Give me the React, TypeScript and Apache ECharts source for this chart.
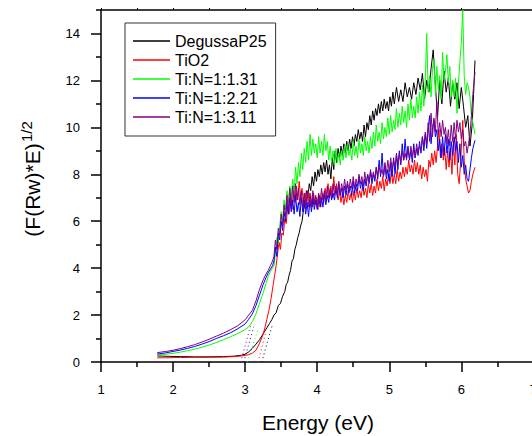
import React, { useEffect, useRef } from "react";
import * as echarts from "echarts";

const FONT = "'Liberation Sans', Arial, sans-serif";

const seriesNames = ["DegussaP25", "TiO2", "Ti:N=1:1.31", "Ti:N=1:2.21", "Ti:N=1:3.11"];
const seriesColors = ["#000000", "#ff0000", "#00ff00", "#0000ff", "#800080"];

const xTitle = "Energy (eV)";
const yTitleMain = "(F(Rw)*E)";
const yTitleSup = "1/2";
const yMajorTicks = [0, 2, 4, 6, 8, 10, 12, 14];
const yMinorTicks = [1, 3, 5, 7, 9, 11, 13, 15];

const degussa: [number, number][] = [
  [1.78,0.26],[1.85,0.25],[1.95,0.24],[2.1,0.23],[2.3,0.22],[2.5,0.22],[2.7,0.23],[2.85,0.25],[2.95,0.29],[3.0,0.33],
  [3.05,0.43],[3.1,0.58],[3.15,0.76],[3.2,0.95],[3.25,1.2],[3.3,1.45],[3.34,1.65],[3.37,1.8],[3.4,2.0],[3.43,2.1],
  [3.46,2.4],[3.49,2.5],[3.52,2.8],[3.55,3.0],[3.57,3.3],[3.59,3.4],[3.61,3.7],[3.63,3.9],[3.65,4.3],[3.67,4.4],
  [3.69,4.8],[3.71,5.0],[3.73,5.3],[3.75,5.5],[3.77,5.8],[3.79,6.0],[3.81,6.5],[3.83,6.7],[3.85,7.3],[3.87,7.0],
  [3.89,7.6],[3.91,7.3],[3.93,7.9],[3.95,7.5],[3.97,8.1],[3.99,7.7],[4.01,8.2],[4.03,7.9],[4.05,8.4],[4.07,8.0],
  [4.09,8.5],[4.11,8.1],[4.13,8.6],[4.15,8.0],[4.17,8.4],[4.19,7.8],[4.21,8.7],[4.23,8.2],[4.25,9.0],[4.27,8.5],
  [4.29,9.1],[4.31,8.7],[4.33,9.2],[4.35,8.8],[4.37,9.3],[4.39,8.9],[4.41,9.4],[4.43,9.0],[4.45,9.5],[4.47,9.1],
  [4.49,9.6],[4.51,9.2],[4.53,9.7],[4.55,9.4],[4.57,9.9],[4.59,9.5],[4.61,9.8],[4.63,9.4],[4.65,10.1],[4.67,9.6],
  [4.69,10.2],[4.71,9.9],[4.73,10.5],[4.75,10.1],[4.77,10.7],[4.79,10.3],[4.81,10.8],[4.83,10.5],[4.85,11.0],[4.87,10.6],
  [4.89,11.1],[4.91,10.7],[4.93,11.2],[4.95,10.8],[4.97,11.1],[4.99,10.7],[5.01,11.3],[5.03,10.9],[5.05,11.5],[5.07,11.0],
  [5.10,11.7],[5.13,11.1],[5.16,11.6],[5.19,11.1],[5.22,11.9],[5.25,11.3],[5.28,11.7],[5.31,11.2],[5.34,11.9],[5.37,11.4],
  [5.40,12.1],[5.43,11.6],[5.46,12.3],[5.49,11.2],[5.52,12.0],[5.55,11.5],[5.58,12.5],[5.61,13.3],[5.64,11.8],[5.67,10.4],
  [5.70,12.0],[5.73,11.0],[5.76,12.4],[5.79,11.5],[5.82,12.1],[5.85,10.9],[5.88,11.9],[5.91,11.2],[5.94,11.9],[5.97,10.8],
  [6.00,11.7],[6.03,10.9],[6.06,10.0],[6.09,10.5],[6.12,9.2],[6.15,10.1],[6.17,11.4],[6.19,12.85]
];

const tio2: [number, number][] = [
  [1.78,0.18],[1.9,0.18],[2.1,0.19],[2.3,0.2],[2.5,0.2],[2.7,0.21],[2.85,0.23],[2.95,0.26],[3.0,0.28],[3.05,0.31],
  [3.1,0.38],[3.15,0.5],[3.2,0.8],[3.24,1.1],[3.27,1.4],[3.3,1.8],[3.33,2.2],[3.36,2.7],[3.39,3.3],[3.41,3.7],
  [3.43,4.1],[3.45,4.6],[3.47,5.1],[3.49,4.8],[3.51,5.5],[3.53,5.4],[3.55,6.1],[3.57,5.9],[3.59,6.6],[3.61,6.3],
  [3.63,7.0],[3.65,6.5],[3.67,7.3],[3.69,6.8],[3.71,7.5],[3.73,6.9],[3.75,7.7],[3.77,7.0],[3.79,7.4],[3.81,6.8],
  [3.83,7.2],[3.85,6.7],[3.87,7.3],[3.89,6.8],[3.91,7.1],[3.93,6.6],[3.95,7.2],[3.97,6.7],[3.99,7.0],[4.01,6.5],
  [4.03,7.1],[4.05,6.6],[4.07,7.2],[4.09,6.8],[4.11,7.4],[4.13,6.9],[4.15,7.6],[4.17,7.0],[4.19,7.5],[4.21,7.0],
  [4.23,7.9],[4.25,7.2],[4.27,7.6],[4.29,6.9],[4.31,7.3],[4.33,6.8],[4.35,7.2],[4.37,6.7],[4.39,7.1],[4.41,6.8],
  [4.43,7.3],[4.45,6.9],[4.47,7.2],[4.49,6.8],[4.51,7.3],[4.53,6.9],[4.55,7.4],[4.57,7.0],[4.59,7.3],[4.61,7.0],
  [4.63,7.5],[4.65,7.1],[4.67,7.4],[4.69,7.0],[4.71,7.6],[4.73,7.2],[4.75,7.6],[4.77,7.1],[4.79,7.5],[4.81,7.2],
  [4.83,7.8],[4.85,7.3],[4.87,7.7],[4.89,7.4],[4.91,7.9],[4.93,7.3],[4.95,7.8],[4.97,7.5],[4.99,8.0],[5.01,7.6],
  [5.03,8.1],[5.05,7.6],[5.07,8.0],[5.09,7.6],[5.11,8.2],[5.13,7.7],[5.15,8.1],[5.17,7.8],[5.19,8.3],[5.21,7.9],
  [5.23,8.3],[5.25,8.0],[5.27,8.6],[5.29,8.1],[5.31,8.4],[5.33,8.0],[5.35,8.6],[5.37,8.1],[5.39,8.5],[5.41,8.0],
  [5.43,8.4],[5.45,7.8],[5.47,8.3],[5.49,7.9],[5.51,8.2],[5.53,7.7],[5.55,8.6],[5.57,8.3],[5.59,8.9],[5.61,8.4],
  [5.63,9.0],[5.65,8.5],[5.67,9.2],[5.69,9.9],[5.71,8.7],[5.73,9.3],[5.75,8.6],[5.77,9.1],[5.79,8.2],[5.81,9.0],
  [5.83,8.3],[5.85,9.1],[5.87,8.0],[5.89,9.4],[5.91,8.4],[5.93,9.7],[5.95,8.0],[5.97,7.6],[5.99,8.5],[6.02,10.3],
  [6.04,8.6],[6.06,7.8],[6.08,7.5],[6.10,7.2],[6.12,7.3],[6.14,7.7],[6.16,8.0],[6.19,8.3]
];

const tin131: [number, number][] = [
  [1.78,0.3],[1.9,0.33],[2.0,0.37],[2.1,0.42],[2.2,0.48],[2.3,0.55],[2.4,0.63],[2.5,0.72],[2.6,0.83],[2.7,0.95],
  [2.8,1.08],[2.9,1.22],[3.0,1.38],[3.05,1.5],[3.1,1.72],[3.15,2.05],[3.2,2.5],[3.25,2.95],[3.29,3.35],[3.32,3.65],
  [3.35,3.85],[3.38,4.0],[3.40,4.1],[3.42,4.6],[3.44,5.3],[3.46,5.0],[3.48,5.8],[3.50,6.4],[3.52,6.0],[3.54,6.9],
  [3.56,6.5],[3.58,7.3],[3.60,6.8],[3.62,7.5],[3.64,7.0],[3.66,7.8],[3.68,7.2],[3.70,8.3],[3.72,7.6],[3.74,8.5],
  [3.76,7.9],[3.78,8.9],[3.80,8.2],[3.82,9.1],[3.84,8.5],[3.86,9.4],[3.88,8.6],[3.90,9.7],[3.92,8.8],[3.94,9.5],
  [3.96,8.9],[3.98,9.3],[4.00,8.7],[4.02,9.6],[4.04,8.9],[4.06,9.4],[4.08,8.8],[4.10,9.7],[4.12,9.0],[4.14,9.4],
  [4.16,8.6],[4.18,9.2],[4.20,8.5],[4.22,9.0],[4.24,8.4],[4.26,9.1],[4.28,8.5],[4.30,8.9],[4.32,8.4],[4.34,9.0],
  [4.36,8.6],[4.38,9.2],[4.40,8.7],[4.42,9.3],[4.44,8.8],[4.46,9.1],[4.48,8.6],[4.50,9.4],[4.52,8.8],[4.54,9.2],
  [4.56,8.7],[4.58,9.5],[4.60,8.9],[4.62,9.3],[4.64,8.8],[4.66,9.6],[4.68,9.0],[4.70,9.4],[4.72,8.9],[4.74,9.6],
  [4.76,9.1],[4.78,9.8],[4.80,9.2],[4.82,10.1],[4.84,9.4],[4.86,9.8],[4.88,9.3],[4.90,10.2],[4.92,9.5],[4.94,10.0],
  [4.96,9.6],[4.98,10.4],[5.00,9.7],[5.02,10.5],[5.04,9.8],[5.06,10.3],[5.08,9.9],[5.10,10.8],[5.12,10.0],[5.14,10.6],
  [5.16,10.1],[5.18,10.9],[5.20,10.2],[5.22,10.7],[5.24,10.0],[5.26,11.0],[5.28,10.3],[5.30,11.2],[5.32,10.4],[5.34,10.9],
  [5.36,10.4],[5.38,11.3],[5.40,10.6],[5.42,11.5],[5.44,10.7],[5.46,11.8],[5.48,10.9],[5.50,12.0],[5.52,14.0],[5.54,11.5],
  [5.56,12.2],[5.58,11.3],[5.60,12.5],[5.62,12.9],[5.64,11.4],[5.66,12.6],[5.68,11.6],[5.70,12.2],[5.72,11.2],[5.74,13.2],
  [5.76,12.0],[5.78,12.4],[5.80,13.1],[5.82,11.9],[5.84,12.6],[5.86,11.3],[5.88,12.0],[5.90,11.3],[5.92,12.1],[5.94,10.6],
  [5.96,11.9],[5.98,12.8],[6.00,13.6],[6.02,15.0],[6.04,12.2],[6.06,11.4],[6.08,11.9],[6.10,11.7],[6.12,11.3],[6.14,10.5],
  [6.16,10.2],[6.19,9.7]
];

const tin221: [number, number][] = [
  [1.78,0.34],[1.9,0.39],[2.0,0.45],[2.1,0.51],[2.2,0.58],[2.3,0.66],[2.4,0.76],[2.5,0.87],[2.6,1.0],[2.7,1.12],
  [2.8,1.25],[2.9,1.42],[3.0,1.62],[3.05,1.82],[3.1,2.05],[3.15,2.4],[3.2,2.85],[3.25,3.3],[3.29,3.6],[3.32,3.8],
  [3.35,3.95],[3.38,4.1],[3.40,4.3],[3.42,4.9],[3.44,4.5],[3.46,5.5],[3.48,5.2],[3.50,6.0],[3.52,5.6],[3.54,6.4],
  [3.56,6.0],[3.58,6.8],[3.60,6.3],[3.62,7.0],[3.64,6.4],[3.66,6.9],[3.68,6.3],[3.70,7.1],[3.72,6.4],[3.74,6.8],
  [3.76,6.2],[3.78,7.0],[3.80,6.4],[3.82,6.9],[3.84,6.3],[3.86,6.8],[3.88,6.2],[3.90,6.9],[3.92,6.4],[3.94,7.0],
  [3.96,6.5],[3.98,6.9],[4.00,6.5],[4.02,7.1],[4.04,6.6],[4.06,7.0],[4.08,6.6],[4.10,7.2],[4.12,6.7],[4.14,7.1],
  [4.16,6.8],[4.18,7.3],[4.20,6.9],[4.22,7.2],[4.24,6.9],[4.26,7.4],[4.28,7.0],[4.30,7.6],[4.32,7.1],[4.34,7.4],
  [4.36,7.0],[4.38,7.5],[4.40,7.1],[4.42,7.6],[4.44,7.2],[4.46,7.5],[4.48,7.1],[4.50,7.7],[4.52,7.2],[4.54,7.6],
  [4.56,7.3],[4.58,7.9],[4.60,7.4],[4.62,7.7],[4.64,7.3],[4.66,7.8],[4.68,7.5],[4.70,8.0],[4.72,7.6],[4.74,8.1],
  [4.76,7.6],[4.78,8.0],[4.80,7.7],[4.82,8.3],[4.84,7.8],[4.86,8.6],[4.88,7.9],[4.90,8.9],[4.92,7.9],[4.94,8.4],
  [4.96,7.8],[4.98,8.2],[5.00,7.7],[5.02,8.5],[5.04,7.9],[5.06,8.7],[5.08,8.0],[5.10,8.8],[5.12,8.2],[5.14,9.0],
  [5.16,8.4],[5.18,9.3],[5.20,8.6],[5.22,9.5],[5.24,8.7],[5.26,9.2],[5.28,8.6],[5.30,9.0],[5.32,8.5],[5.34,9.3],
  [5.36,8.7],[5.38,9.1],[5.40,8.8],[5.42,9.4],[5.44,8.9],[5.46,9.6],[5.48,9.0],[5.50,9.7],[5.52,9.1],[5.54,9.9],
  [5.56,10.5],[5.58,9.3],[5.60,10.0],[5.62,10.3],[5.64,9.6],[5.66,9.9],[5.68,9.0],[5.70,9.5],[5.72,8.7],[5.74,9.6],
  [5.76,8.8],[5.78,9.7],[5.80,8.9],[5.82,9.5],[5.84,8.6],[5.86,9.4],[5.88,8.8],[5.90,9.6],[5.92,9.0],[5.94,9.4],
  [5.96,8.5],[5.98,9.3],[6.00,8.3],[6.02,8.8],[6.04,8.0],[6.06,8.4],[6.08,7.8],[6.10,7.7],[6.12,8.2],[6.14,8.7],
  [6.16,9.1],[6.19,9.45]
];

const tin311: [number, number][] = [
  [1.78,0.4],[1.9,0.45],[2.0,0.5],[2.1,0.57],[2.2,0.65],[2.3,0.74],[2.4,0.85],[2.5,0.97],[2.6,1.1],[2.7,1.23],
  [2.8,1.38],[2.9,1.55],[3.0,1.8],[3.05,2.0],[3.1,2.2],[3.15,2.6],[3.2,3.1],[3.25,3.5],[3.29,3.75],[3.32,3.9],
  [3.35,4.1],[3.38,4.3],[3.40,4.5],[3.42,5.2],[3.44,4.8],[3.46,5.7],[3.48,5.4],[3.50,6.3],[3.52,5.8],[3.54,6.7],
  [3.56,6.2],[3.58,7.1],[3.60,6.5],[3.62,7.4],[3.64,6.7],[3.66,7.5],[3.68,6.8],[3.70,7.6],[3.72,6.9],[3.74,7.4],
  [3.76,6.7],[3.78,7.3],[3.80,6.6],[3.82,7.2],[3.84,6.5],[3.86,7.3],[3.88,6.6],[3.90,7.2],[3.92,6.6],[3.94,7.3],
  [3.96,6.7],[3.98,7.1],[4.00,6.6],[4.02,7.2],[4.04,6.8],[4.06,7.4],[4.08,6.9],[4.10,7.3],[4.12,6.9],[4.14,7.5],
  [4.16,7.0],[4.18,7.4],[4.20,7.0],[4.22,7.6],[4.24,7.1],[4.26,7.5],[4.28,7.1],[4.30,7.7],[4.32,7.2],[4.34,7.6],
  [4.36,7.2],[4.38,7.8],[4.40,7.3],[4.42,7.7],[4.44,7.3],[4.46,7.8],[4.48,7.4],[4.50,7.9],[4.52,7.4],[4.54,7.8],
  [4.56,7.5],[4.58,8.0],[4.60,7.6],[4.62,7.9],[4.64,7.5],[4.66,8.1],[4.68,7.6],[4.70,8.0],[4.72,7.7],[4.74,8.2],
  [4.76,7.8],[4.78,8.1],[4.80,7.8],[4.82,8.3],[4.84,7.9],[4.86,8.4],[4.88,8.0],[4.90,8.2],[4.92,7.9],[4.94,8.5],
  [4.96,8.0],[4.98,8.6],[5.00,8.1],[5.02,8.7],[5.04,8.2],[5.06,8.6],[5.08,8.3],[5.10,8.9],[5.12,8.4],[5.14,8.9],
  [5.16,8.5],[5.18,9.0],[5.20,8.6],[5.22,8.9],[5.24,8.6],[5.26,9.1],[5.28,8.7],[5.30,9.2],[5.32,8.8],[5.34,9.1],
  [5.36,8.7],[5.38,9.3],[5.40,8.9],[5.42,9.2],[5.44,9.0],[5.46,9.6],[5.48,9.2],[5.50,9.8],[5.52,9.3],[5.54,10.2],
  [5.56,9.4],[5.58,10.6],[5.60,9.6],[5.62,10.4],[5.64,9.8],[5.66,11.1],[5.68,9.7],[5.70,10.2],[5.72,9.6],[5.74,10.3],
  [5.76,9.7],[5.78,10.0],[5.80,9.3],[5.82,9.9],[5.84,9.2],[5.86,10.1],[5.88,9.4],[5.90,10.2],[5.92,9.5],[5.94,10.3],
  [5.96,9.8],[5.98,10.2],[6.00,9.5],[6.02,9.9],[6.04,9.2],[6.06,9.4],[6.08,8.9],[6.10,9.3],[6.12,9.7],[6.14,10.5],
  [6.16,11.4],[6.19,12.35]
];

// dotted tangent extrapolations to the energy axis
const tangentDegussa: [number, number][] = [[3.23, 0], [3.38, 1.6]];
const tangentTiO2: [number, number][] = [[3.18, 0], [3.28, 1.2]];
const tangent131: [number, number][] = [[3.03, 0], [3.18, 1.4]];
const tangent221: [number, number][] = [[2.98, 0], [3.12, 1.5]];
const tangent311: [number, number][] = [[2.94, 0], [3.08, 1.6]];

const curves = [degussa, tio2, tin131, tin221, tin311];
const tangents = [tangentDegussa, tangentTiO2, tangent131, tangent221, tangent311];

export default function App() {
  const ref = useRef<HTMLDivElement>(null);

  useEffect(() => {
    if (!ref.current) return;
    const chart = echarts.init(ref.current, undefined, { renderer: "svg" });
    const axisLineStyle = { color: "#000", width: 1.5 };
    const series: any[] = [];
    curves.forEach((d, i) => {
      series.push({
        name: seriesNames[i],
        type: "line",
        data: d,
        showSymbol: false,
        symbol: "none",
        color: seriesColors[i],
        lineStyle: { color: seriesColors[i], width: 1 },
        z: 2 + i,
      });
    });
    tangents.forEach((d, i) => {
      series.push({
        name: "tangent-" + i,
        type: "line",
        data: d,
        showSymbol: false,
        symbol: "none",
        color: seriesColors[i],
        lineStyle: { color: seriesColors[i], width: 1, type: [1, 3] },
        z: 1,
      });
    });

    chart.setOption({
      animation: false,
      backgroundColor: "#fff",
      textStyle: { fontFamily: FONT },
      grid: { left: 101, right: 5, top: 10, bottom: 74, containLabel: false },
      legend: {
        data: seriesNames,
        orient: "vertical",
        left: 125,
        top: 23,
        padding: [10, 9, 11, 8],
        itemGap: 3,
        itemWidth: 37,
        itemHeight: 1.5,
        icon: "rect",
        borderColor: "#333",
        borderWidth: 1,
        textStyle: { fontSize: 16, color: "#000", fontFamily: FONT },
      },
      xAxis: [
        {
          type: "value",
          position: "bottom",
          min: 1,
          max: 7,
          interval: 1,
          axisLine: { show: true, onZero: false, lineStyle: axisLineStyle },
          axisTick: { show: true, inside: false, length: 10, lineStyle: axisLineStyle },
          minorTick: { show: true, splitNumber: 2, length: 5, lineStyle: axisLineStyle },
          splitLine: { show: false },
          axisLabel: { fontSize: 13, color: "#000", margin: 21, fontFamily: FONT },
        },
        {
          type: "value",
          position: "top",
          min: 1,
          max: 7,
          interval: 0.5,
          axisLine: { show: true, onZero: false, lineStyle: axisLineStyle },
          axisTick: { show: true, inside: false, length: 2, lineStyle: { color: "#000", width: 1 } },
          splitLine: { show: false },
          axisLabel: { show: false },
        },
      ],
      yAxis: [
        {
          type: "value",
          position: "left",
          min: 0,
          max: 15,
          interval: 1,
          axisLine: { show: true, onZero: false, lineStyle: axisLineStyle },
          axisTick: { show: true, inside: false, length: 10, lineStyle: axisLineStyle, customValues: yMajorTicks },
          splitLine: { show: false },
          axisLabel: { fontSize: 13, color: "#000", margin: 21, fontFamily: FONT, customValues: yMajorTicks },
        },
        {
          type: "value",
          position: "left",
          offset: 0,
          min: 0,
          max: 15,
          interval: 1,
          axisLine: { show: false },
          axisTick: { show: true, inside: false, length: 5, lineStyle: axisLineStyle, customValues: yMinorTicks },
          splitLine: { show: false },
          axisLabel: { show: false },
        },
      ],
      graphic: [
        {
          type: "text",
          x: 318,
          y: 422,
          style: {
            text: xTitle,
            fontSize: 21,
            fontFamily: FONT,
            fill: "#000",
            textAlign: "center",
            textVerticalAlign: "middle",
          },
        },
        {
          type: "group",
          x: 32,
          y: 190,
          rotation: Math.PI / 2,
          children: [
            {
              type: "text",
              x: 0,
              y: 0,
              style: {
                text: yTitleMain,
                fontSize: 21,
                fontFamily: FONT,
                fill: "#000",
                textAlign: "center",
                textVerticalAlign: "middle",
              },
            },
            {
              type: "text",
              x: 48,
              y: -6,
              style: {
                text: yTitleSup,
                fontSize: 15,
                fontFamily: FONT,
                fill: "#000",
                textAlign: "left",
                textVerticalAlign: "middle",
              },
            },
          ],
        },
      ],
      series,
    });
    return () => chart.dispose();
  }, []);

  return (
    <div
      style={{
        position: "fixed",
        left: 0,
        top: 0,
        width: 532,
        height: 436,
        overflow: "hidden",
        background: "#fff",
      }}
    >
      <div ref={ref} style={{ width: 540, height: 436 }} />
    </div>
  );
}
